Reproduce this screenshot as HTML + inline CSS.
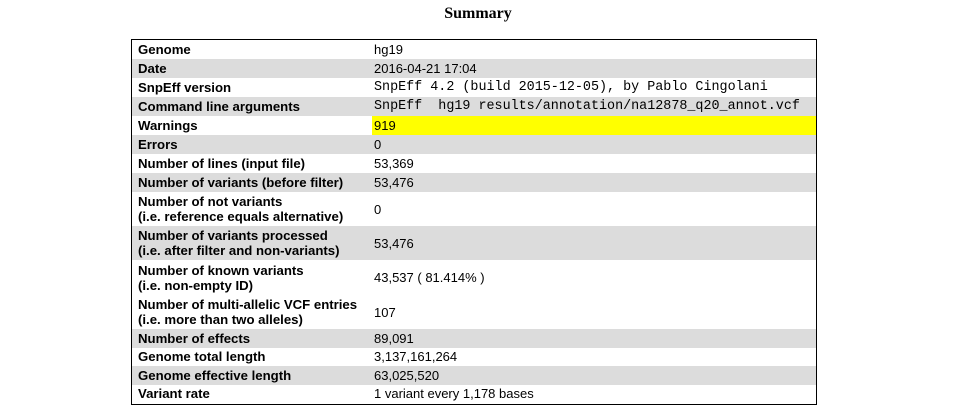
<!DOCTYPE html>
<html><head><meta charset="utf-8"><style>
body{margin:0;width:956px;height:418px;background:#fff;position:relative;overflow:hidden;font-family:"Liberation Sans",Arial,sans-serif;font-size:13px;color:#000}
h1{position:absolute;top:5px;left:0;width:956px;text-align:center;margin:0;font:bold 16px "Liberation Serif",serif}
#tbl{position:absolute;left:131px;top:39px;width:684px;height:364px;border:1.5px solid #000}
.row{position:absolute;left:0;width:684px;display:flex;align-items:center}
.g{background:#dcdcdc}
.lab{position:absolute;left:6px;font-weight:bold;line-height:15px;font-size:13.2px}
.val{position:absolute;left:240px;right:0;top:0;bottom:0;display:flex;align-items:center;padding-left:2px}
.mono{font-family:"Liberation Mono",monospace;font-size:13.4px}
</style></head><body>
<h1>Summary</h1>
<div id="tbl"></div>
<script>
const rows=[
["Genome","hg19",19,0],
["Date","2016-04-21 17:04",19,1],
["SnpEff version","SnpEff 4.2 (build 2015-12-05), by Pablo Cingolani",19,0,"mono"],
["Command line arguments","SnpEff&nbsp; hg19 results/annotation/na12878_q20_annot.vcf",19,1,"mono"],
["Warnings","919",19,0,"warn"],
["Errors","0",19,1],
["Number of lines (input file)","53,369",19,0],
["Number of variants (before filter)","53,476",19,1],
["Number of not variants<br>(i.e. reference equals alternative)","0",34,0],
["Number of variants processed<br>(i.e. after filter and non-variants)","53,476",34,1],
["Number of known variants<br>(i.e. non-empty ID)","43,537 ( 81.414% )",35,0],
["Number of multi-allelic VCF entries<br>(i.e. more than two alleles)","107",34,0],
["Number of effects","89,091",18.5,1],
["Genome total length","3,137,161,264",18.5,0],
["Genome effective length","63,025,520",18.5,1],
["Variant rate","1 variant every 1,178 bases",18.5,0]];
const t=document.getElementById('tbl');let y=0;
rows.forEach((r,i)=>{
 const d=document.createElement('div');
 
 
 d.className='row'+(r[3]?' g':'');d.style.top=y+'px';d.style.height=r[2]+'px';
 const l=document.createElement('div');
 
 
 l.className='lab';l.innerHTML=r[0];
 const v=document.createElement('div');
 
 
 v.className='val'+(r[4]==='mono'?' mono':'');v.innerHTML=r[1];
 if(r[4]==='warn')v.style.background='#ffff00';
 d.appendChild(l);d.appendChild(v);t.appendChild(d);y+=r[2];
});
</script>
</body></html>
